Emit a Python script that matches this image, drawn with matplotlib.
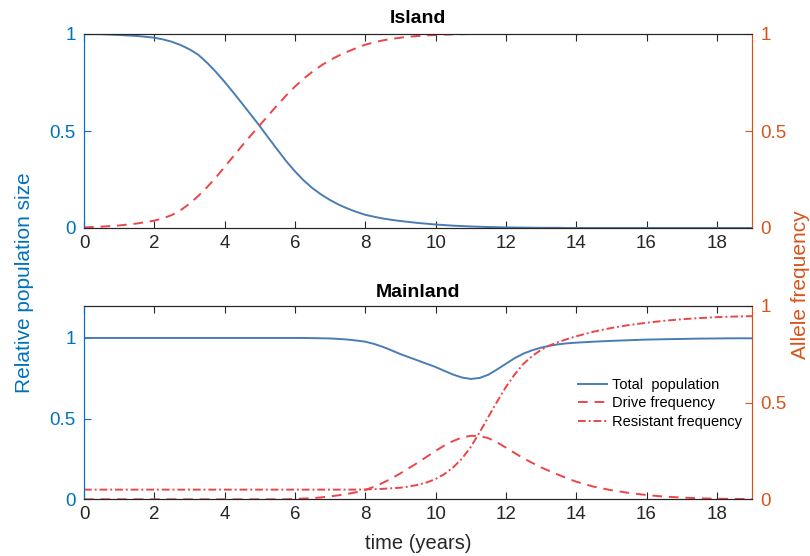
import numpy as np
import matplotlib
matplotlib.use("Agg")
import matplotlib.pyplot as plt

plt.rcParams['font.family'] = ['Liberation Sans', 'DejaVu Sans']

# time axis (years): half-year steps at the ends, quarter-year steps from 2 to 14
t = np.concatenate([np.arange(0, 2, 0.5), np.arange(2, 14.01, 0.25), np.arange(14.5, 19.01, 0.5)])

# Island
island_pop = [1.0, 0.999, 0.995, 0.99,
              0.981, 0.972, 0.96, 0.943,
              0.921, 0.893, 0.852, 0.805,
              0.753, 0.698, 0.641, 0.583,
              0.525, 0.464, 0.404, 0.345,
              0.292, 0.245, 0.205, 0.172,
              0.144, 0.12, 0.1, 0.083,
              0.068, 0.058, 0.049, 0.042,
              0.036, 0.031, 0.026, 0.022,
              0.018, 0.015, 0.012, 0.01,
              0.008, 0.0065, 0.005, 0.004,
              0.003, 0.0025, 0.002, 0.0015,
              0.001, 0.001, 0.001, 0.0,
              0.0,
              0.0, 0.0, 0.0, 0.0, 0.0, 0.0, 0.0, 0.0, 0.0, 0.0]
island_drive = [0.003, 0.007, 0.013, 0.023,
                0.038, 0.05, 0.067, 0.092,
                0.125, 0.165, 0.21, 0.26,
                0.315, 0.37, 0.425, 0.478,
                0.53, 0.582, 0.634, 0.683,
                0.729, 0.77, 0.806, 0.838,
                0.866, 0.889, 0.909, 0.928,
                0.945, 0.957, 0.967, 0.975,
                0.981, 0.986, 0.99, 0.993,
                0.995, 0.997, 0.998, 0.999,
                1.0, 1.0, 1.0, 1.0,
                1.0, 1.0, 1.0, 1.0,
                1.0, 1.0, 1.0, 1.0,
                1.0,
                1.0, 1.0, 1.0, 1.0, 1.0, 1.0, 1.0, 1.0, 1.0, 1.0]

# Mainland
main_pop = [1.0, 1.0, 1.0, 1.0,
            1.0, 1.0, 1.0, 1.0,
            1.0, 1.0, 1.0, 1.0,
            1.0, 1.0, 1.0, 1.0,
            1.0, 1.0, 1.0, 1.0,
            1.0, 1.0, 0.999, 0.998,
            0.997, 0.994, 0.99, 0.984,
            0.977, 0.963, 0.945, 0.923,
            0.9, 0.88, 0.86, 0.84,
            0.82, 0.796, 0.773, 0.755,
            0.746, 0.752, 0.772, 0.805,
            0.84, 0.875, 0.903, 0.924,
            0.94, 0.952, 0.961, 0.967,
            0.971,
            0.977, 0.982, 0.986, 0.99, 0.992, 0.994, 0.996, 0.997, 0.998, 0.998]
main_drive = [0.0, 0.0, 0.0, 0.0,
              0.0, 0.0, 0.0, 0.0,
              0.0, 0.0, 0.0, 0.0,
              0.0, 0.0, 0.0, 0.0,
              0.0, 0.0, 0.0, 0.0,
              0.002, 0.004, 0.006, 0.01,
              0.015, 0.021, 0.028, 0.037,
              0.048, 0.065, 0.085, 0.108,
              0.134, 0.162, 0.19, 0.22,
              0.25, 0.278, 0.301, 0.319,
              0.328, 0.327, 0.316, 0.294,
              0.267, 0.239, 0.212, 0.188,
              0.165, 0.145, 0.126, 0.108,
              0.091,
              0.065, 0.047, 0.033, 0.022, 0.014, 0.009, 0.005, 0.003, 0.002, 0.001]
main_resist = [0.05, 0.05, 0.05, 0.05,
               0.05, 0.05, 0.05, 0.05,
               0.05, 0.05, 0.05, 0.05,
               0.05, 0.05, 0.05, 0.05,
               0.05, 0.05, 0.05, 0.05,
               0.05, 0.05, 0.05, 0.05,
               0.05, 0.05, 0.05, 0.05,
               0.051, 0.052, 0.054, 0.057,
               0.06, 0.066, 0.075, 0.087,
               0.105, 0.13, 0.165, 0.21,
               0.27, 0.345, 0.425, 0.505,
               0.58, 0.645, 0.70, 0.74,
               0.772, 0.795, 0.813, 0.828,
               0.842,
               0.866, 0.885, 0.9, 0.912, 0.922, 0.93, 0.936, 0.941, 0.944, 0.946]

xticks = [0, 2, 4, 6, 8, 10, 12, 14, 16, 18]

left_col = '#0072BD'
right_col = '#D95319'
pop_col = '#4a7db3'
freq_col = '#ec4547'
axis_gray = '#262626'

fig = plt.figure(figsize=(8.1, 5.56), dpi=100)
W, H = 810, 556


def style(ax, axr, ylim_left):
    ax.set_xlim(0, 19)
    ax.set_ylim(*ylim_left)
    axr.set_ylim(0, 1)
    ax.set_xticks(xticks)
    ax.set_yticks([0, 0.5, 1])
    ax.set_yticklabels(['0', '0.5', '1'])
    axr.set_yticks([0, 0.5, 1])
    axr.set_yticklabels(['0', '0.5', '1'])
    ax.tick_params(axis='x', direction='in', top=True, length=5, width=0.8,
                   colors=axis_gray, labelsize=13.5, pad=5)
    ax.tick_params(axis='y', direction='in', length=5, width=0.8,
                   colors=left_col, labelsize=13.5, pad=6)
    axr.tick_params(axis='y', direction='in', length=5, width=0.8,
                    colors=right_col, labelsize=13.5, pad=6)
    for a in (ax, axr):
        a.spines['top'].set_color(axis_gray)
        a.spines['bottom'].set_color(axis_gray)
        a.spines['left'].set_color(left_col)
        a.spines['right'].set_color(right_col)
        for s in a.spines.values():
            s.set_linewidth(0.8)


# top panel
ax1 = fig.add_axes([84 / W, 1 - 228 / H, 668 / W, 194 / H])
ax1r = ax1.twinx()
ax1.plot(t, island_pop, color=pop_col, lw=1.4)
ax1r.plot(t, island_drive, color=freq_col, lw=1.4, dashes=(5, 3.5))
style(ax1, ax1r, (0, 1))
ax1.set_title('Island', fontsize=14, fontweight='bold', pad=8)

# bottom panel
ax2 = fig.add_axes([84 / W, 1 - 499.3 / H, 668 / W, 193.6 / H])
ax2r = ax2.twinx()
l1, = ax2.plot(t, main_pop, color=pop_col, lw=1.4, label='Total  population')
l2, = ax2r.plot(t, main_drive, color=freq_col, lw=1.4, dashes=(5, 3.5),
                label='Drive frequency')
l3, = ax2r.plot(t, main_resist, color=freq_col, lw=1.4, dashes=(4, 1.5, 1, 1.5),
                label='Resistant frequency')
style(ax2, ax2r, (0, 1.2))
ax2.set_title('Mainland', fontsize=14, fontweight='bold', pad=6)
ax2.set_xlabel('time (years)', fontsize=14.5, color=axis_gray, labelpad=8)

ax2r.legend(handles=[l1, l2, l3], loc='upper left', frameon=False, fontsize=10.5,
            bbox_to_anchor=(565 / W, 1 - 365 / H), bbox_transform=fig.transFigure,
            handlelength=2.0, handletextpad=0.3, labelspacing=0.3)

fig.text(25 / W, 1 - 283 / H, 'Relative population size', rotation=90,
         ha='center', va='center', fontsize=15, color=left_col)
fig.text(800 / W, 1 - 285 / H, 'Allele frequency', rotation=90,
         ha='center', va='center', fontsize=15, color=right_col)

fig.savefig('out.png', dpi=100)
